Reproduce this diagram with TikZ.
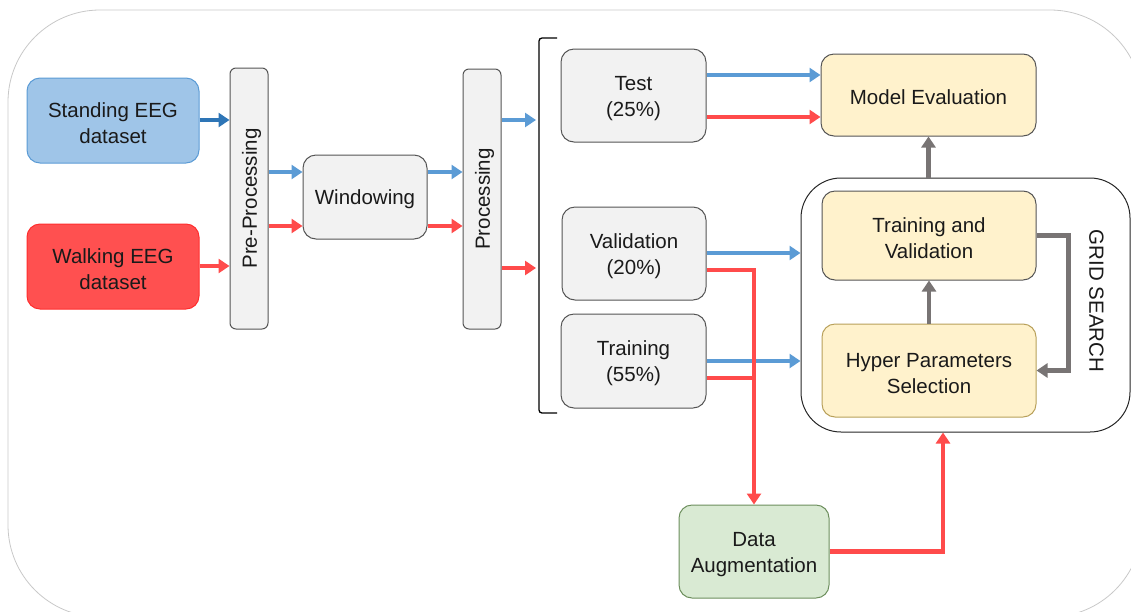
\documentclass[tikz,border=0pt]{standalone}
\usepackage{fontspec}
\setmainfont{Liberation Sans}
\usetikzlibrary{arrows.meta}

\definecolor{framegray}{HTML}{C8C8C8}
\definecolor{boxline}{HTML}{555555}
\definecolor{boxfill}{HTML}{F2F2F2}
\definecolor{stdfill}{HTML}{9FC5E8}
\definecolor{stdline}{HTML}{5B9BD5}
\definecolor{walkfill}{HTML}{FF5050}
\definecolor{walkline}{HTML}{FF2E2E}
\definecolor{yfill}{HTML}{FFF2CC}
\definecolor{yline}{HTML}{B8A05A}
\definecolor{gfill}{HTML}{D9EAD3}
\definecolor{gline}{HTML}{6D8F5D}
\definecolor{flowblue}{HTML}{5B9BD5}
\definecolor{darkblue}{HTML}{2E75B6}
\definecolor{flowred}{HTML}{FF4B4B}
\definecolor{flowgray}{HTML}{787474}
\definecolor{txt}{HTML}{1A1A1A}

% tall strut for the first text line, so the text sits a little below the box centre
\newcommand{\toprow}{\rule{0pt}{20pt}}

\tikzset{
  plain/.style={font=\fontsize{20.5}{26}\selectfont, text=txt, align=center, inner sep=0pt},
  lbl/.style={plain},
  stagebox/.style={lbl, draw=boxline, fill=boxfill, line width=1pt, rounded corners=13pt},
  barbox/.style={draw=boxline, fill=boxfill, line width=1pt, rounded corners=6pt, inner sep=0pt},
  yellowbox/.style={lbl, draw=boxline, fill=yfill, line width=1pt, rounded corners=13pt},
  flow/.style={line width=4.5pt, -{Triangle[length=11pt,width=14pt]}},
  blueflow/.style={flow, draw=flowblue},
  darkflow/.style={flow, draw=darkblue},
  redflow/.style={flow, draw=flowred},
  redline/.style={line width=4.5pt, draw=flowred},
  grayflow/.style={flow, draw=flowgray},
}

\begin{document}
\begin{tikzpicture}[x=1pt, y=-1pt]
\useasboundingbox (0,0) rectangle (1131,611);

% outer frame, partly running off the page
\begin{scope}
  \clip (0,0) rectangle (1131,611);
  \draw[framegray, line width=0.8pt, rounded corners=92pt] (8,10) rectangle (1142,617);
\end{scope}

% input datasets
\node[lbl, draw=stdline, fill=stdfill, line width=1pt, rounded corners=13pt,
      minimum width=172pt, minimum height=85pt] (std) at (113,120.5) {\toprow Standing EEG\\dataset};
\node[lbl, draw=walkline, fill=walkfill, line width=1pt, rounded corners=13pt,
      minimum width=172pt, minimum height=85pt] (walk) at (113,266.5) {\toprow Walking EEG\\dataset};

% pre-processing bar
\node[barbox, minimum width=38pt, minimum height=261pt] (pre) at (249,198.5) {};
\node[lbl, rotate=90] (pretxt) at (pre.center) {\toprow Pre-Processing};

% windowing
\node[stagebox, minimum width=124pt, minimum height=84pt] (win) at (365,197) {\toprow Windowing};

% processing bar
\node[barbox, minimum width=38pt, minimum height=260pt] (proc) at (482,199) {};
\node[lbl, rotate=90] (proctxt) at (proc.center) {\toprow Processing};

% split bracket
\coordinate (brtop) at (557,38);
\coordinate (brbot) at (557,413);
\draw[black, line width=1.3pt, rounded corners=3pt] (brtop) -- (539,38) -- (539,413) -- (brbot);
\coordinate (brblue) at (536,120);
\coordinate (brred) at (536,268);

% data splits
\node[stagebox, minimum width=145pt, minimum height=93pt] (test) at (633.5,95.5) {\toprow Test\\(25\%)};
\node[stagebox, minimum width=144pt, minimum height=93pt] (val) at (634,253.5) {\toprow Validation\\(20\%)};
\node[stagebox, minimum width=145pt, minimum height=94pt] (train) at (633.5,361) {\toprow Training\\(55\%)};

% evaluation and grid search
\node[yellowbox, minimum width=215pt, minimum height=82pt] (me) at (928.5,95) {\toprow Model Evaluation};
\node[draw=black!85, line width=1pt, rounded corners=40pt, minimum width=329pt,
      minimum height=254pt, inner sep=0pt] (grid) at (965.5,305) {};
\node[yellowbox, minimum width=214pt, minimum height=89pt] (tv) at (929,235.5) {\toprow Training and\\Validation};
\node[yellowbox, draw=yline, minimum width=214pt, minimum height=93pt] (hps) at (929,370.5) {\toprow Hyper Parameters\\Selection};
\node[plain, rotate=-90] (gs) at (1096.5,301) {GRID SEARCH};

% augmentation
\node[lbl, draw=gline, fill=gfill, line width=1pt, rounded corners=13pt,
      minimum width=150pt, minimum height=93pt] (da) at (754,551.5) {\toprow Data\\Augmentation};

% datasets into pre-processing
\draw[darkflow] (std.east |- 0,120) -- (pre.west |- 0,120);
\draw[redflow] (walk.east |- 0,266) -- (pre.west |- 0,266);

% pre-processing to windowing to processing
\draw[blueflow] (pre.east |- 0,172) -- (win.west |- 0,172);
\draw[redflow] (pre.east |- 0,226) -- (win.west |- 0,226);
\draw[blueflow] (win.east |- 0,172) -- (proc.west |- 0,172);
\draw[redflow] (win.east |- 0,226) -- (proc.west |- 0,226);

% processing into the split
\draw[blueflow] (proc.east |- brblue) -- (brblue);
\draw[redflow] (proc.east |- brred) -- (brred);

% test set to evaluation
\draw[blueflow] (test.east |- 0,75) -- (me.west |- 0,75);
\draw[redflow] (test.east |- 0,117) -- (me.west |- 0,117);

% validation and training sets into grid search
\draw[blueflow] (val.east |- 0,253) -- (grid.west |- 0,253);
\draw[blueflow] (train.east |- 0,361) -- (grid.west |- 0,361);

% walking data to augmentation
\draw[redflow] (val.east |- 0,270) -| (da.north);
\draw[redline] (train.east |- 0,378) -- (da.north |- 0,378);

% augmentation into grid search
\draw[redflow] (da.east) -| ([xshift=-22.5pt]grid.south);

% grid search internals and result
\draw[grayflow] (me.south |- grid.north) -- (me.south);
\draw[grayflow] (hps.north) -- (tv.south);
\draw[grayflow] (tv.east) -- ++(32,0) |- (hps.east);
\end{tikzpicture}
\end{document}
